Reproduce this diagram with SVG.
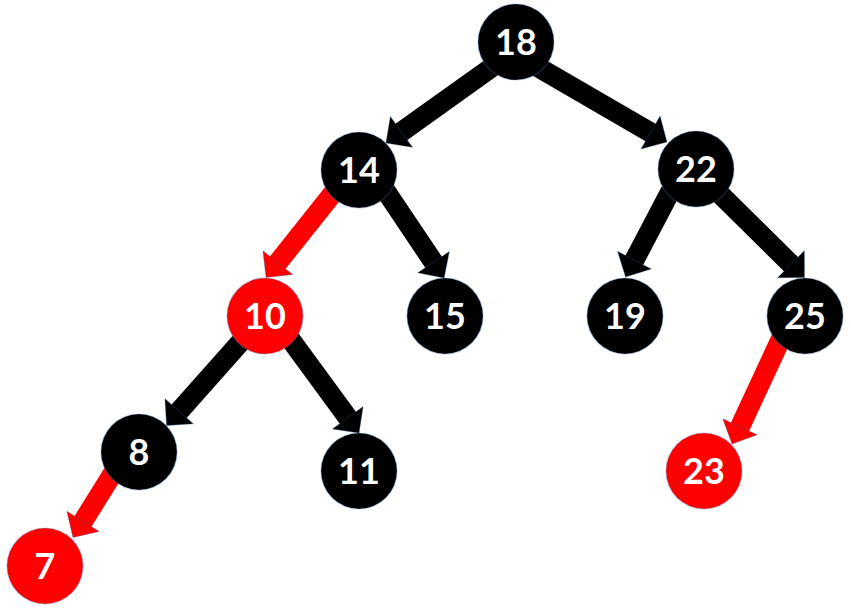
<svg xmlns="http://www.w3.org/2000/svg" width="851" height="614" viewBox="0 0 851 614">
<style>
.edge{stroke-width:20;stroke-linecap:butt;fill:none}
.blk{stroke:#000}
.red{stroke:#ff0000}
.node circle{stroke:#4f81bd;stroke-opacity:0.35;stroke-width:1.2}
.b circle{fill:#000}
.r circle{fill:#ff0000}
.node text{font-family:Lato,"Open Sans","Liberation Sans",sans-serif;font-weight:bold;font-size:36px;fill:#fff;text-anchor:middle}
</style>
<defs>
<marker id="hb" markerUnits="userSpaceOnUse" markerWidth="24" markerHeight="42" viewBox="-2 -21 24 42" refX="0" refY="0" orient="auto" overflow="visible">
<path d="M-1,-19 L18,0 L-1,19 Z" fill="#000" stroke="#2e5c8a" stroke-opacity="0.4" stroke-width="0.8"/>
</marker>
<marker id="hr" markerUnits="userSpaceOnUse" markerWidth="24" markerHeight="42" viewBox="-2 -21 24 42" refX="0" refY="0" orient="auto" overflow="visible">
<path d="M-1,-19 L18,0 L-1,19 Z" fill="#ff0000" stroke="#2e5c8a" stroke-opacity="0.4" stroke-width="0.8"/>
</marker>
</defs>
<rect width="851" height="614" fill="#fff"/>
<g id="connectors">
<line class="edge blk" x1="494.5" y1="65.3" x2="400.6" y2="132.5" marker-end="url(#hb)"/>
<line class="edge blk" x1="536" y1="66" x2="651.4" y2="133" marker-end="url(#hb)"/>
<line class="edge red" x1="335" y1="190.7" x2="277.2" y2="263.4" marker-end="url(#hr)"/>
<line class="edge blk" x1="382.6" y1="186.3" x2="434.1" y2="263" marker-end="url(#hb)"/>
<line class="edge blk" x1="243.3" y1="339" x2="178.5" y2="412" marker-end="url(#hb)"/>
<line class="edge blk" x1="288.3" y1="336.5" x2="348.4" y2="418.5" marker-end="url(#hb)"/>
<line class="edge red" x1="114.2" y1="471.2" x2="82.5" y2="522.2" marker-end="url(#hr)"/>
<line class="edge blk" x1="670.7" y1="190.9" x2="633.9" y2="261" marker-end="url(#hb)"/>
<line class="edge blk" x1="717.3" y1="191.4" x2="791.7" y2="264.9" marker-end="url(#hb)"/>
<line class="edge red" x1="781.4" y1="337.8" x2="739.6" y2="427.7" marker-end="url(#hr)"/>
</g>
<g id="n18" class="node b"><circle cx="516" cy="42" r="38"/><text x="516" y="54.8">18</text></g>
<g id="n14" class="node b"><circle cx="359" cy="170" r="38"/><text x="359" y="182.8">14</text></g>
<g id="n22" class="node b"><circle cx="696" cy="169" r="38"/><text x="696" y="181.8">22</text></g>
<g id="n10" class="node r"><circle cx="265" cy="316" r="38"/><text x="265" y="328.8">10</text></g>
<g id="n15" class="node b"><circle cx="445" cy="316" r="38"/><text x="445" y="328.8">15</text></g>
<g id="n19" class="node b"><circle cx="625" cy="316" r="38"/><text x="625" y="328.8">19</text></g>
<g id="n25" class="node b"><circle cx="805" cy="316" r="38"/><text x="805" y="328.8">25</text></g>
<g id="n8" class="node b"><circle cx="139" cy="452" r="38"/><text x="139" y="464.8">8</text></g>
<g id="n11" class="node b"><circle cx="359" cy="471" r="38"/><text x="359" y="483.8">11</text></g>
<g id="n23" class="node r"><circle cx="704" cy="471" r="38"/><text x="704" y="483.8">23</text></g>
<g id="n7" class="node r"><circle cx="45" cy="566" r="38"/><text x="45" y="578.8">7</text></g>
</svg>
